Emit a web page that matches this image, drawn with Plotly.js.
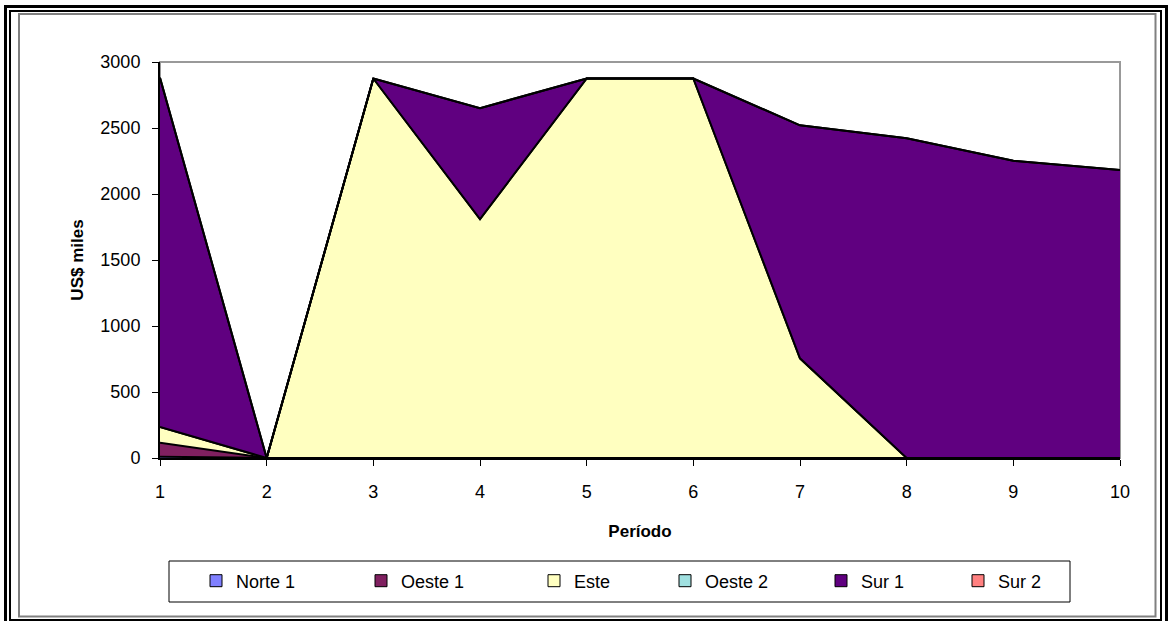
<!DOCTYPE html>
<html>
<head>
<meta charset="utf-8">
<script src="https://cdn.plot.ly/plotly-3.0.1.min.js"></script>
<style>
  html, body { margin: 0; padding: 0; background: #ffffff; }
  #chart { width: 1171px; height: 621px; }
</style>
</head>
<body>
<div id="chart"></div>
<script>
// Períodos y montos por zona (US$ miles), apilados
const periodos = [1, 2, 3, 4, 5, 6, 7, 8, 9, 10];
const norte1 = [10, 0, 0, 0, 0, 0, 0, 0, 0, 0];
const oeste1 = [105, 0, 0, 0, 0, 0, 0, 0, 0, 0];
const este   = [120, 0, 2875, 1810, 2875, 2875, 755, 0, 0, 0];
const oeste2 = [0, 0, 0, 0, 0, 0, 0, 0, 0, 0];
const sur1   = [2645, 0, 0, 840, 0, 0, 1765, 2422, 2252, 2182];
const sur2   = [0, 0, 0, 0, 0, 0, 0, 0, 0, 0];

const nombres = ['Norte 1', 'Oeste 1', 'Este', 'Oeste 2', 'Sur 1', 'Sur 2'];
const series  = [norte1, oeste1, este, oeste2, sur1, sur2];
const colores = ['#8080FF', '#802060', '#FFFFC0', '#A0E0E0', '#600080', '#FF8080'];
const yTicks  = [0, 500, 1000, 1500, 2000, 2500, 3000];

const W = 1171, H = 621;
const M = { l: 160, r: 51, t: 62, b: 163 };
const PW = W - M.l - M.r, PH = H - M.t - M.b;
// pixel -> paper coordinates
const px = v => (v - M.l) / PW;
const py = v => (H - M.b - v) / PH;

const FONT = '"Liberation Sans", Arial, Helvetica, sans-serif';

const traces = [];
series.forEach((vals, i) => {
  traces.push({
    type: 'scatter', mode: 'lines', name: nombres[i],
    x: periodos, y: vals, stackgroup: 'zonas',
    fillcolor: colores[i],
    line: { color: '#000000', width: 2 },
    showlegend: false, hoverinfo: 'x+y+name'
  });
});

// legend entries: one legend per zone so each sits at its own slot
const legendSlots = [218, 383, 556, 687, 843, 980];
const legends = {};
series.forEach((vals, i) => {
  const key = i === 0 ? 'legend' : 'legend' + (i + 1);
  traces.push({
    type: 'scatter', mode: 'markers', name: nombres[i],
    x: [null], y: [null],
    marker: { symbol: 'square', size: 12, color: colores[i], line: { color: '#000000', width: 1 } },
    legend: key, showlegend: true, hoverinfo: 'skip'
  });
  legends[key] = {
    x: px(legendSlots[i] - 22), xanchor: 'left',
    y: py(581), yanchor: 'middle',
    orientation: 'v', bgcolor: 'rgba(0,0,0,0)', borderwidth: 0,
    font: { family: FONT, size: 18, color: '#000000' }
  };
});

const rect = (x0, y0, x1, y1, color, width) => ({
  type: 'rect', xref: 'paper', yref: 'paper',
  x0: px(x0), x1: px(x1), y0: py(y0), y1: py(y1),
  line: { color: color, width: width }, fillcolor: 'rgba(0,0,0,0)', layer: 'above'
});

const layout = Object.assign({
  width: W, height: H,
  margin: M,
  paper_bgcolor: '#ffffff', plot_bgcolor: '#ffffff',
  font: { family: FONT, size: 18, color: '#000000' },
  showlegend: true,
  xaxis: {
    range: [1, 10], tickvals: periodos, ticktext: periodos.map(String),
    showgrid: false, zeroline: false,
    showline: true, linecolor: '#000000', linewidth: 2,
    ticks: 'outside', ticklen: 6, tickcolor: '#000000', tickwidth: 1,
    ticklabelstandoff: 10,
    tickfont: { family: FONT, size: 18 },
    title: { text: 'Período', font: { family: FONT, size: 17, weight: 'bold' }, standoff: 25 }
  },
  yaxis: {
    range: [0, 3000], tickvals: yTicks, ticktext: yTicks.map(String),
    showgrid: false, zeroline: false,
    showline: true, linecolor: '#000000', linewidth: 2,
    ticks: 'outside', ticklen: 6, tickcolor: '#000000', tickwidth: 1,
    ticklabelstandoff: 8,
    tickfont: { family: FONT, size: 18 },
    title: { text: 'US$ miles', font: { family: FONT, size: 17, weight: 'bold' }, standoff: 12 }
  },
  shapes: [
    // plot area border
    { type: 'rect', xref: 'paper', yref: 'paper', x0: 0, x1: 1, y0: 0, y1: 1,
      line: { color: '#999999', width: 2 }, fillcolor: 'rgba(0,0,0,0)', layer: 'below' },
    // legend box
    rect(169, 561, 1070, 602, '#000000', 1),
    // chart frame
    rect(19, 14, 1155.5, 616.5, '#808080', 2),
    rect(10, 11, 1161, 620, '#000000', 2),
    rect(5.5, 6.5, 1166.5, 624, '#000000', 3)
  ]
}, legends);

Plotly.newPlot('chart', traces, layout, { displayModeBar: false, staticPlot: true });
</script>
</body>
</html>
